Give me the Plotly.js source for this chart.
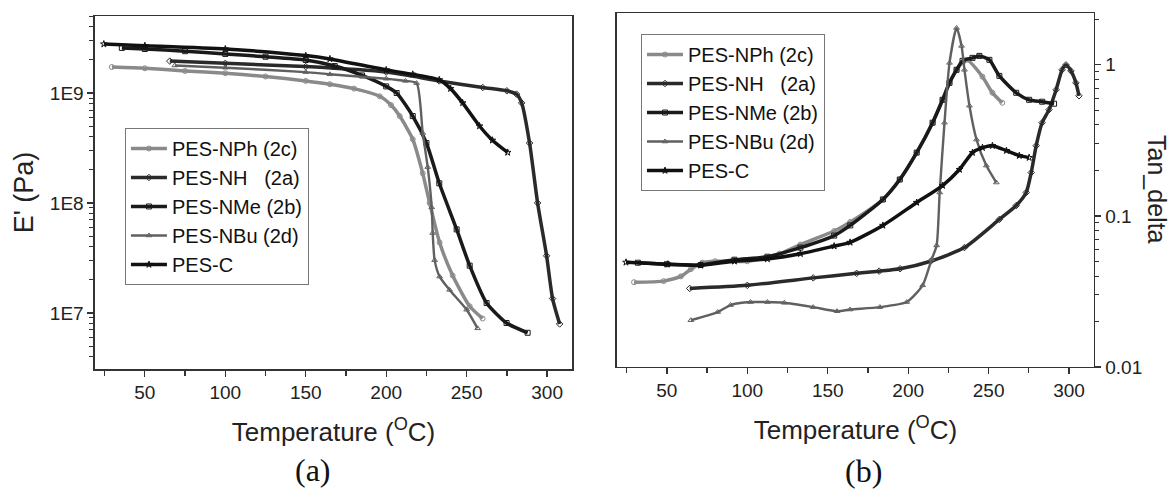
<!DOCTYPE html>
<html>
<head>
<meta charset="utf-8">
<script src="https://cdn.plot.ly/plotly-3.0.1.min.js"></script>
<style>html,body{margin:0;padding:0;background:#fff;}#chart{width:1171px;height:493px;}</style>
</head>
<body>
<div id="chart"></div>
<script>
// ---------- Panel (a): storage modulus E' (Pa) ----------
var seriesNames = ['PES-NPh (2c)', 'PES-NH   (2a)', 'PES-NMe (2b)', 'PES-NBu (2d)', 'PES-C'];

var a_T_NPh = [29.5, 50, 75, 100, 125, 150, 165, 180, 196, 203, 208.4, 216.5, 222.7, 227, 233.2, 241.3, 251.9, 259.9];
var a_E_NPh = [1.722e9, 1.679e9, 1.585e9, 1.514e9, 1.413e9, 1.288e9, 1.202e9, 1.096e9, 9.33e8, 7.76e8, 6.17e8, 3.80e8, 1.86e8, 1.0e8, 4.37e7, 2.19e7, 1.15e7, 8.9e6];

var a_T_NH = [65.5, 100, 150, 200, 233, 260, 275, 281, 284.2, 289.1, 294.1, 299.7, 303.4, 307.8];
var a_E_NH = [1.950e9, 1.862e9, 1.738e9, 1.549e9, 1.288e9, 1.122e9, 1.047e9, 9.77e8, 8.13e8, 3.51e8, 1.0e8, 3.31e7, 1.35e7, 7.94e6];

var a_T_NMe = [35.7, 50, 75, 100, 125, 150, 168, 185, 200, 206.5, 216.5, 225, 233, 243.8, 251.9, 262.4, 274.8, 287.9];
var a_E_NMe = [2.570e9, 2.512e9, 2.399e9, 2.265e9, 2.138e9, 1.995e9, 1.758e9, 1.445e9, 1.148e9, 1.0e9, 6.17e8, 3.51e8, 1.51e8, 5.75e7, 2.69e7, 1.23e7, 8.1e6, 6.6e6];

var a_T_NBu = [68.6, 100, 150, 165, 200, 212, 218.9, 222.7, 225.8, 228.3, 228.9, 230.1, 233.2, 239.4, 250, 256.8];
var a_E_NBu = [1.778e9, 1.698e9, 1.549e9, 1.479e9, 1.349e9, 1.288e9, 1.230e9, 4.33e8, 2.12e8, 9.12e7, 5.33e7, 3.02e7, 2.14e7, 1.62e7, 1.07e7, 7.24e6];

var a_T_C = [24.5, 50, 100, 150, 165, 200, 216.5, 233, 240, 247.5, 258, 266, 275.5];
var a_E_C = [2.786e9, 2.692e9, 2.512e9, 2.188e9, 2.042e9, 1.622e9, 1.479e9, 1.318e9, 1.096e9, 8.13e8, 5.01e8, 3.72e8, 2.88e8];

// ---------- Panel (b): Tan_delta ----------
var b_T_NPh = [29.6, 48, 58.7, 64.9, 72, 80, 100, 120, 133, 154, 164, 184.3, 194.8, 205.3, 215.2, 221.4, 225.7, 230.1, 236.3, 246.2, 252.4, 258.5];
var b_D_NPh = [0.0364, 0.0370, 0.0398, 0.0444, 0.0490, 0.0501, 0.0501, 0.0562, 0.0646, 0.0794, 0.0912, 0.1285, 0.1742, 0.2624, 0.414, 0.587, 0.760, 0.927, 1.079, 0.834, 0.653, 0.561];

var b_T_NH = [64.2, 100, 141, 168, 182, 195, 214, 235, 256.7, 267.2, 273.4, 276.5, 279.6, 283.3, 287.6, 292, 295.7, 298.1, 301.2, 304.3, 306.2];
var b_D_NH = [0.0331, 0.0347, 0.0389, 0.0417, 0.0431, 0.0447, 0.0501, 0.0617, 0.0948, 0.1172, 0.1429, 0.1936, 0.2917, 0.414, 0.505, 0.684, 0.927, 1.0, 0.912, 0.760, 0.624];

var b_T_NMe = [32, 50, 71, 92, 112.5, 133, 154, 164, 184.3, 194.8, 205.3, 215.2, 221.4, 225.7, 230.1, 233.8, 240, 244.3, 250.5, 256.7, 267.2, 275.2, 283.3, 290.7];
var b_D_NMe = [0.0490, 0.0479, 0.0473, 0.0513, 0.0537, 0.0617, 0.0741, 0.0865, 0.1285, 0.1742, 0.2624, 0.414, 0.587, 0.760, 0.927, 1.062, 1.112, 1.146, 1.079, 0.845, 0.653, 0.587, 0.570, 0.553];

var b_T_NBu = [64.9, 81.6, 89.6, 102, 112.5, 123, 141, 155.8, 163.9, 182.4, 199.1, 209, 214.6, 217.7, 219.6, 222.6, 225.7, 230.1, 233.2, 235, 238.1, 242.5, 248.6, 254.8];
var b_D_NBu = [0.0204, 0.0231, 0.0257, 0.0269, 0.0269, 0.0266, 0.0249, 0.0234, 0.0240, 0.0249, 0.0269, 0.0347, 0.0516, 0.0638, 0.1429, 0.414, 1.030, 1.754, 1.334, 0.927, 0.536, 0.320, 0.2153, 0.1663];

var b_T_C = [24.6, 50.6, 71, 92, 112.5, 133, 154, 163.9, 184.3, 205.3, 221.4, 231.9, 240, 246.2, 252.4, 261.1, 269.1, 275.2];
var b_D_C = [0.0493, 0.0479, 0.0471, 0.0501, 0.0519, 0.0562, 0.0631, 0.0668, 0.0865, 0.1227, 0.1589, 0.2028, 0.2624, 0.2831, 0.2917, 0.2704, 0.2506, 0.2432];

// tick labels
var aTickVals = [1e7, 1e8, 1e9];
var aTickText = ['1E7', '1E8', '1E9'];
var bTickVals = [0.01, 0.1, 1];
var bTickText = ['0.01', '0.1', '1'];

// ---------- styles ----------
var styles = [
  {color: '#8a8a8a', symbol: 'circle-open', dash: 'solid', width: 3.5},
  {color: '#2a2a2a', symbol: 'diamond-open', dash: 'solid', width: 3.5},
  {color: '#1a1a1a', symbol: 'square-open', dash: 'solid', width: 3.5},
  {color: '#606060', symbol: 'triangle-up-open', dash: 'solid', width: 2.4},
  {color: '#111111', symbol: 'star-open', dash: 'solid', width: 3.5}
];

function mk(x, y, i, xa, ya, leg) {
  var s = styles[i];
  return {
    x: x, y: y, xaxis: xa, yaxis: ya, legend: leg,
    name: seriesNames[i], type: 'scatter', mode: 'lines+markers',
    line: {color: s.color, width: s.width, dash: s.dash, shape: 'spline', smoothing: 0.6},
    marker: {symbol: s.symbol, size: 5, color: s.color, line: {width: 1, color: s.color}}
  };
}

var data = [
  mk(a_T_NPh, a_E_NPh, 0, 'x', 'y', 'legend'),
  mk(a_T_NH, a_E_NH, 1, 'x', 'y', 'legend'),
  mk(a_T_NMe, a_E_NMe, 2, 'x', 'y', 'legend'),
  mk(a_T_NBu, a_E_NBu, 3, 'x', 'y', 'legend'),
  mk(a_T_C, a_E_C, 4, 'x', 'y', 'legend'),
  mk(b_T_NPh, b_D_NPh, 0, 'x2', 'y2', 'legend2'),
  mk(b_T_NH, b_D_NH, 1, 'x2', 'y2', 'legend2'),
  mk(b_T_NMe, b_D_NMe, 2, 'x2', 'y2', 'legend2'),
  mk(b_T_NBu, b_D_NBu, 3, 'x2', 'y2', 'legend2'),
  mk(b_T_C, b_D_C, 4, 'x2', 'y2', 'legend2')
];

function minorLog(lo, hi) {
  var v = [];
  for (var e = lo; e <= hi; e++) for (var m = 2; m <= 9; m++) v.push(m * Math.pow(10, e));
  return v;
}

var FONT = 'Liberation Sans, Arial, sans-serif';
var AX = '#333';
var xCommon = {
  range: [19, 315.5], tickmode: 'linear', tick0: 0, dtick: 50,
  ticks: 'outside', ticklen: 6, tickwidth: 1.3, tickcolor: AX,
  minor: {tickmode: 'linear', tick0: 0, dtick: 25, ticks: 'outside', ticklen: 5, tickwidth: 1.3, tickcolor: AX},
  showline: true, mirror: true, linecolor: AX, linewidth: 1.5,
  showgrid: false, zeroline: false,
  tickfont: {family: FONT, size: 19, color: '#222'},
  title: {text: 'Temperature (<sup>O</sup>C)', font: {family: FONT, size: 26, color: '#222'}, standoff: 20}
};

var layout = {
  width: 1171, height: 493,
  margin: {l: 0, r: 0, t: 0, b: 0},
  paper_bgcolor: '#fff', plot_bgcolor: '#fff',
  font: {family: FONT, color: '#222'},
  showlegend: true,
  xaxis: Object.assign({}, xCommon, {domain: [0.0811, 0.4885], anchor: 'y'}),
  yaxis: {
    domain: [0.2515, 0.9675], anchor: 'x', type: 'log', range: [6.49, 9.70],
    tickmode: 'array', tickvals: aTickVals, ticktext: aTickText,
    ticks: 'outside', ticklen: 6, tickwidth: 1.3, tickcolor: AX,
    minor: {tickmode: 'array', tickvals: minorLog(6, 9), ticks: 'outside', ticklen: 4, tickwidth: 1, tickcolor: AX},
    showline: true, mirror: true, linecolor: AX, linewidth: 1.5,
    showgrid: false, zeroline: false,
    tickfont: {family: FONT, size: 19, color: '#222'},
    title: {text: "E' (Pa)", font: {family: FONT, size: 27, color: '#222'}, standoff: 8}
  },
  xaxis2: Object.assign({}, xCommon, {domain: [0.5269, 0.9342], anchor: 'y2'}),
  yaxis2: {
    domain: [0.2556, 0.9736], anchor: 'x2', side: 'right', type: 'log', range: [-2, 0.343],
    tickmode: 'array', tickvals: bTickVals, ticktext: bTickText,
    ticks: 'outside', ticklen: 6, tickwidth: 1.3, tickcolor: AX,
    minor: {tickmode: 'array', tickvals: minorLog(-2, 0), ticks: 'outside', ticklen: 4, tickwidth: 1, tickcolor: AX},
    showline: true, mirror: true, linecolor: AX, linewidth: 1.5,
    showgrid: false, zeroline: false,
    tickfont: {family: FONT, size: 19, color: '#222'}
  },
  legend: {
    x: 0.1067, y: 0.7404, xanchor: 'left', yanchor: 'top',
    bgcolor: '#fff', bordercolor: '#777', borderwidth: 1,
    font: {family: FONT, size: 20, color: '#111'}, itemwidth: 36, tracegroupgap: 0
  },
  legend2: {
    x: 0.5474, y: 0.931, xanchor: 'left', yanchor: 'top',
    bgcolor: '#fff', bordercolor: '#777', borderwidth: 1,
    font: {family: FONT, size: 20, color: '#111'}, itemwidth: 36, tracegroupgap: 0
  },
  annotations: [
    {text: 'Tan_delta', xref: 'paper', yref: 'paper', x: 0.988, y: 0.6146, xanchor: 'center', yanchor: 'middle',
     textangle: 90, showarrow: false, font: {family: FONT, size: 25, color: '#222'}},
    {text: '(a)', xref: 'paper', yref: 'paper', x: 0.2673, y: 0.046, xanchor: 'center', yanchor: 'middle',
     showarrow: false, font: {family: 'Liberation Serif, Times New Roman, serif', size: 32, color: '#111'}},
    {text: '(b)', xref: 'paper', yref: 'paper', x: 0.737, y: 0.044, xanchor: 'center', yanchor: 'middle',
     showarrow: false, font: {family: 'Liberation Serif, Times New Roman, serif', size: 32, color: '#111'}}
  ]
};

Plotly.newPlot('chart', data, layout, {displayModeBar: false, staticPlot: true});
</script>
</body>
</html>
